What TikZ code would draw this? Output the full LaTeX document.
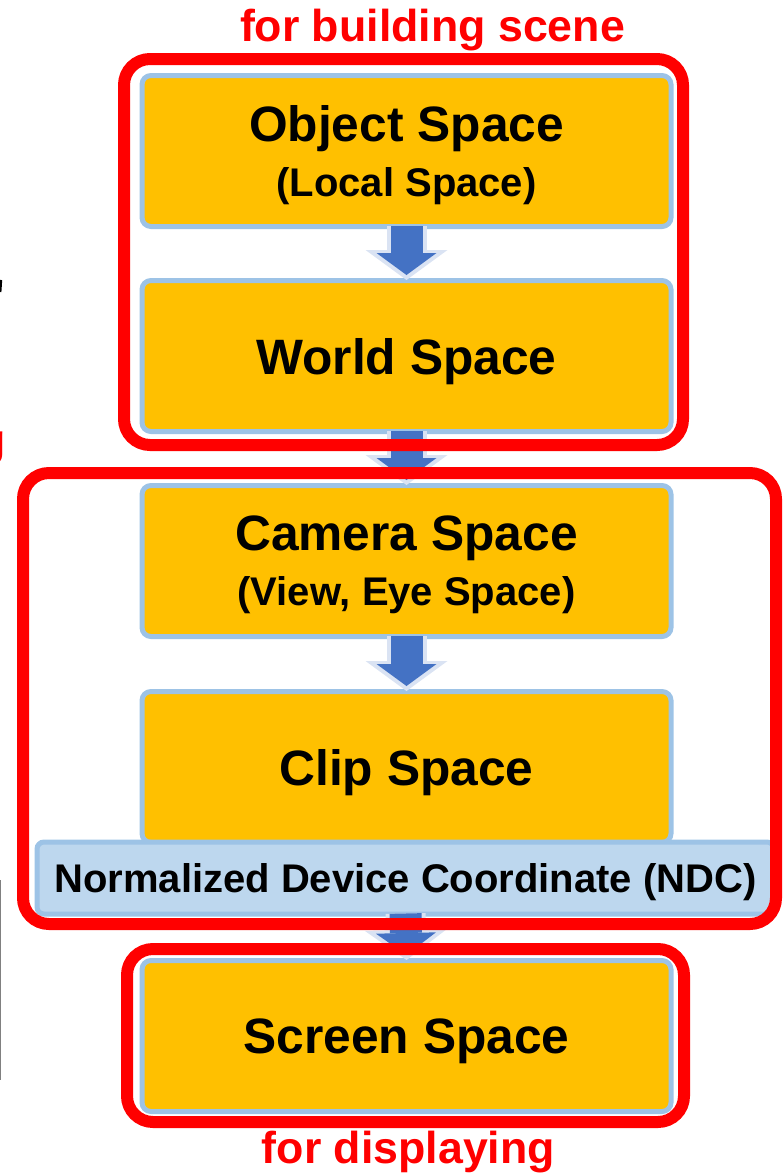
\documentclass[tikz,border=0pt]{standalone}
\usepackage{fontspec}
\setmainfont{Liberation Sans}
\usetikzlibrary{arrows.meta}
\definecolor{boxfill}{HTML}{FFC000}
\definecolor{boxedge}{HTML}{9DC3E6}
\definecolor{ndcfill}{HTML}{BDD7EE}
\definecolor{flowblue}{HTML}{4472C4}
\definecolor{flowedge}{HTML}{DAE3F3}
\definecolor{frame}{HTML}{FF0000}
\newcommand{\bigtext}{\fontsize{49.7}{55}\selectfont}
\newcommand{\smalltext}{\fontsize{40}{55}\selectfont}
\begin{document}
\begin{tikzpicture}[x=1pt,y=-1pt,
  every node/.style={font=\bfseries},
  space/.style={draw=boxedge,line width=5pt,fill=boxfill,rounded corners=9pt,
    minimum width=529pt,minimum height=151pt,inner sep=0pt,align=center,
    text depth=-7pt,font=\bfseries\bigtext},
  ndcbox/.style={draw=boxedge,line width=5pt,fill=ndcfill,rounded corners=7pt,
    minimum width=737pt,minimum height=72pt,inner sep=0pt,text depth=0pt,
    font=\bfseries\smalltext},
  flow/.style={draw=flowblue,line width=32pt,shorten >=3pt,
    -{Triangle[width=60pt,length=22pt,line width=0pt]},
    preaction={draw=flowedge,line width=40pt,shorten >=-2pt,
      -{Triangle[width=82pt,length=30pt,line width=0pt]}}},
  group/.style={draw=frame,line width=12pt,rounded corners=26pt},
  note/.style={text=frame,anchor=base,font=\bfseries\fontsize{44.7}{50}\selectfont}]
  \useasboundingbox (0,0) rectangle (782,1173);
  % Spaces
  \node[space] (obj) at (406.5,151) {Object Space\\\smalltext (Local Space)};
  \node[space] (world) at (406.5,356) {World Space};
  \node[space] (camera) at (406.5,561) {Camera Space\\\smalltext (View, Eye Space)};
  \node[space] (clip) at (406.5,767) {Clip Space};
  \node[ndcbox] (ndc) at (405.5,878) {Normalized Device Coordinate (NDC)};
  \node[space] (screen) at (406.5,1036) {Screen Space};
  % Arrows
  \foreach \a/\b in {obj/world,world/camera,camera/clip,ndc/screen}
    \draw[flow] ([yshift=3pt]\a.south) -- (\b.north);
  % Groups
  \draw[group] (124,59) rectangle (683,445);
  \draw[group] (23,473) rectangle (776,924);
  \draw[group] (127,949) rectangle (684,1122);
  \node[note] (build) at (432.5,41) {for building scene};
  \node[note] (show) at (408.5,1163) {for displaying};
  % Cut-off bits at the left edge
  \node[note,anchor=base east] (cutg) at (9,455) {g};
  \draw[line width=2pt] (1.2,280) -- (0.4,292);
  \draw[gray,line width=1.5pt] (0.5,880) -- (0.5,1080);
\end{tikzpicture}
\end{document}
